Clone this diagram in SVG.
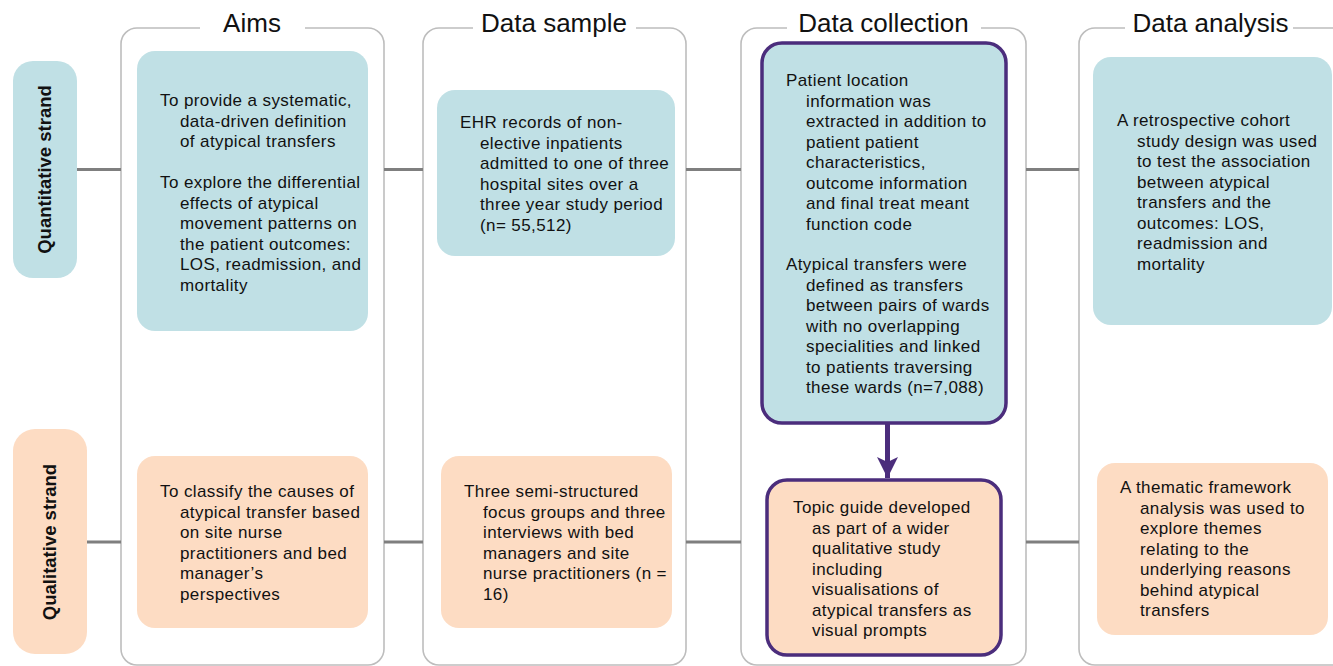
<svg xmlns="http://www.w3.org/2000/svg" width="1333" height="666" viewBox="0 0 1333 666">
<style>
.col{fill:none;stroke:#bdbdbd;stroke-width:1.6}
.gap{fill:#fff;stroke:none}
.title{font-family:"Liberation Sans",Arial,sans-serif;font-size:26px;fill:#111;text-anchor:middle}
.strand{font-family:"Liberation Sans",Arial,sans-serif;font-size:18.5px;font-weight:bold;fill:#111;text-anchor:middle}
.quant{fill:#c0e0e5}
.qual{fill:#fddcc3}
.hl{stroke:#4b2d7c;stroke-width:3.5}
.t{font-family:"Liberation Sans",Arial,sans-serif;font-size:17px;letter-spacing:0.4px;fill:#111}
.conn{stroke:#7f7f7f;stroke-width:3;fill:none}
.arrow{stroke:#4b2d7c;stroke-width:5;fill:none}
</style>
<defs>
<marker id="ah" markerUnits="userSpaceOnUse" markerWidth="22" markerHeight="22" viewBox="0 0 22 22" refX="21" refY="10.5" orient="auto">
<path d="M0,0 L21,10.5 L0,21 L5,10.5 Z" fill="#4b2d7c"/>
</marker>
</defs>

<g id="columns">
<rect class="col" x="121" y="28" width="263" height="637" rx="16"/>
<rect class="gap" x="200" y="20" width="105" height="16"/>
<rect class="col" x="423" y="28" width="263" height="637" rx="16"/>
<rect class="gap" x="473" y="20" width="163" height="16"/>
<rect class="col" x="741" y="28" width="285" height="637" rx="16"/>
<rect class="gap" x="787" y="20" width="194" height="16"/>
<rect class="col" x="1079" y="28" width="270" height="637" rx="16"/>
<rect class="gap" x="1125" y="20" width="168" height="16"/>
<text class="title" x="252" y="32">Aims</text>
<text class="title" x="554" y="32">Data sample</text>
<text class="title" x="883.5" y="32">Data collection</text>
<text class="title" x="1210.5" y="32">Data analysis</text>
</g>

<g id="connectors">
<line class="conn" x1="77" y1="169.5" x2="121" y2="169.5"/>
<line class="conn" x1="384" y1="169.5" x2="423" y2="169.5"/>
<line class="conn" x1="686" y1="169.5" x2="741" y2="169.5"/>
<line class="conn" x1="1026" y1="169.5" x2="1079" y2="169.5"/>
<line class="conn" x1="87" y1="542" x2="121" y2="542"/>
<line class="conn" x1="384" y1="542" x2="423" y2="542"/>
<line class="conn" x1="686" y1="542" x2="741" y2="542"/>
<line class="conn" x1="1026" y1="542" x2="1079" y2="542"/>
<line class="arrow" x1="887.5" y1="424" x2="887.5" y2="478" marker-end="url(#ah)"/>
</g>

<g id="quant-strand">
<rect class="quant" x="13" y="61" width="64" height="217" rx="20"/>
<text class="strand" transform="translate(51,169.5) rotate(-90)">Quantitative strand</text>
</g>
<g id="qual-strand">
<rect class="qual" x="13" y="429" width="74" height="225" rx="22"/>
<text class="strand" transform="translate(56,542) rotate(-90)">Qualitative strand</text>
</g>

<g id="aims-quant">
<rect class="quant" x="137" y="51" width="231" height="280" rx="18"/>
<text class="t"><tspan x="160" y="106">To provide a systematic,</tspan><tspan x="180" y="126.5">data-driven definition</tspan><tspan x="180" y="147">of atypical transfers</tspan><tspan x="160" y="188">To explore the differential</tspan><tspan x="180" y="208.5">effects of atypical</tspan><tspan x="180" y="229">movement patterns on</tspan><tspan x="180" y="249.5">the patient outcomes:</tspan><tspan x="180" y="270">LOS, readmission, and</tspan><tspan x="180" y="290.5">mortality</tspan></text>
</g>
<g id="aims-qual">
<rect class="qual" x="137" y="456" width="231" height="172" rx="18"/>
<text class="t"><tspan x="160" y="497">To classify the causes of</tspan><tspan x="180" y="517.5">atypical transfer based</tspan><tspan x="180" y="538">on site nurse</tspan><tspan x="180" y="558.5">practitioners and bed</tspan><tspan x="180" y="579">manager’s</tspan><tspan x="180" y="599.5">perspectives</tspan></text>
</g>

<g id="sample-quant">
<rect class="quant" x="437" y="90" width="238" height="166" rx="18"/>
<text class="t"><tspan x="460" y="128">EHR records of non-</tspan><tspan x="480" y="148.5">elective inpatients</tspan><tspan x="480" y="169">admitted to one of three</tspan><tspan x="480" y="189.5">hospital sites over a</tspan><tspan x="480" y="210">three year study period</tspan><tspan x="480" y="230.5">(n= 55,512)</tspan></text>
</g>
<g id="sample-qual">
<rect class="qual" x="441" y="456" width="231" height="172" rx="18"/>
<text class="t"><tspan x="464" y="497">Three semi-structured</tspan><tspan x="483" y="517.5">focus groups and three</tspan><tspan x="483" y="538">interviews with bed</tspan><tspan x="483" y="558.5">managers and site</tspan><tspan x="483" y="579">nurse practitioners (n =</tspan><tspan x="483" y="599.5">16)</tspan></text>
</g>

<g id="collection-quant">
<rect class="quant hl" x="762" y="43" width="244" height="380" rx="20"/>
<text class="t"><tspan x="786" y="86">Patient location</tspan><tspan x="806" y="106.5">information was</tspan><tspan x="806" y="127">extracted in addition to</tspan><tspan x="806" y="147.5">patient patient</tspan><tspan x="806" y="168">characteristics,</tspan><tspan x="806" y="188.5">outcome information</tspan><tspan x="806" y="209">and final treat meant</tspan><tspan x="806" y="229.5">function code</tspan><tspan x="786" y="270">Atypical transfers were</tspan><tspan x="806" y="290.5">defined as transfers</tspan><tspan x="806" y="311">between pairs of wards</tspan><tspan x="806" y="331.5">with no overlapping</tspan><tspan x="806" y="352">specialities and linked</tspan><tspan x="806" y="372.5">to patients traversing</tspan><tspan x="806" y="393">these wards (n=7,088)</tspan></text>
</g>
<g id="collection-qual">
<rect class="qual hl" x="767" y="480" width="234" height="175" rx="20"/>
<text class="t"><tspan x="793" y="513">Topic guide developed</tspan><tspan x="812" y="533.5">as part of a wider</tspan><tspan x="812" y="554">qualitative study</tspan><tspan x="812" y="574.5">including</tspan><tspan x="812" y="595">visualisations of</tspan><tspan x="812" y="615.5">atypical transfers as</tspan><tspan x="812" y="636">visual prompts</tspan></text>
</g>

<g id="analysis-quant">
<rect class="quant" x="1093" y="57" width="239" height="268" rx="18"/>
<text class="t"><tspan x="1117" y="126">A retrospective cohort</tspan><tspan x="1137" y="146.5">study design was used</tspan><tspan x="1137" y="167">to test the association</tspan><tspan x="1137" y="187.5">between atypical</tspan><tspan x="1137" y="208">transfers and the</tspan><tspan x="1137" y="228.5">outcomes: LOS,</tspan><tspan x="1137" y="249">readmission and</tspan><tspan x="1137" y="269.5">mortality</tspan></text>
</g>
<g id="analysis-qual">
<rect class="qual" x="1097" y="463" width="231" height="172" rx="18"/>
<text class="t"><tspan x="1120" y="493">A thematic framework</tspan><tspan x="1140" y="513.5">analysis was used to</tspan><tspan x="1140" y="534">explore themes</tspan><tspan x="1140" y="554.5">relating to the</tspan><tspan x="1140" y="575">underlying reasons</tspan><tspan x="1140" y="595.5">behind atypical</tspan><tspan x="1140" y="616">transfers</tspan></text>
</g>
</svg>
